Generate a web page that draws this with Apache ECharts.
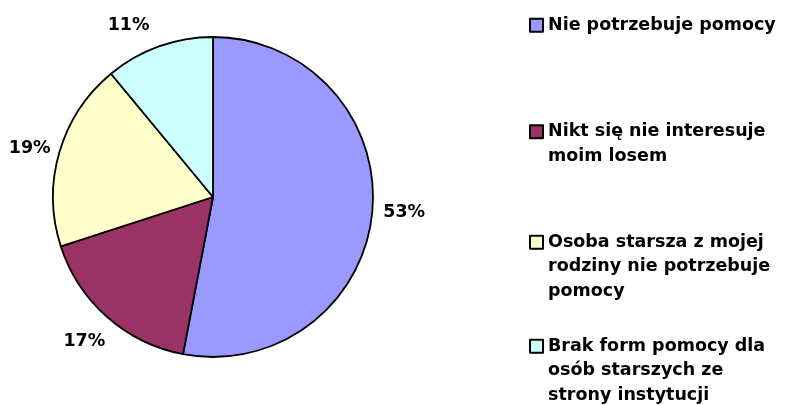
<!DOCTYPE html>
<html>
<head>
<meta charset="utf-8">
<script src="https://cdn.jsdelivr.net/npm/echarts@6/dist/echarts.min.js"></script>
<style>
  html, body { margin: 0; padding: 0; background: #ffffff; }
  #chart { width: 787px; height: 405px; }
</style>
</head>
<body>
<div id="chart"></div>
<script>
// Survey answers (share of respondents, %)
const categories = [
  'Nie potrzebuje pomocy',
  'Nikt się nie interesuje moim losem',
  'Osoba starsza z mojej rodziny nie potrzebuje pomocy',
  'Brak form pomocy dla osób starszych ze strony instytucji'
];
const values = [53, 17, 19, 11];
// Legend text as it wraps in the legend column
const legendLines = [
  ['Nie potrzebuje pomocy'],
  ['Nikt się nie interesuje', 'moim losem'],
  ['Osoba starsza z mojej', 'rodziny nie potrzebuje', 'pomocy'],
  ['Brak form pomocy dla', 'osób starszych ze', 'strony instytucji']
];
const colors = ['#9999FF', '#993366', '#FFFFCC', '#CCFFFF'];

const FONT = '"DejaVu Sans", "Liberation Sans", Arial, sans-serif';
const LINE_H = 24.5;
const legendTops = [13, 95, 181, 285];
// nudges for the percentage labels
const labelNudge = [[-1, -3], [-1, 0], [2, 5], [-19, 10]];

const pieData = categories.map((name, i) => ({
  name: name,
  value: values[i],
  itemStyle: { color: colors[i] }
}));

const labelData = categories.map((name, i) => ({
  name: name,
  value: values[i],
  label: { offset: labelNudge[i] }
}));

// Legend entries: the text block is centred on the swatch, so blank lines
// are put in front to bring the first line level with the swatch.
const legends = categories.map((name, i) => {
  const lines = legendLines[i];
  const pad = new Array(lines.length - 1).fill(' ');
  return {
    data: [name],
    orient: 'vertical',
    left: 529,
    top: legendTops[i],
    padding: 0,
    itemWidth: 13,
    itemHeight: 13,
    icon: 'rect',
    selectedMode: false,
    formatter: () => pad.concat(lines).join('\n'),
    textStyle: {
      fontFamily: FONT,
      fontWeight: 'bold',
      fontSize: 17.5,
      color: '#000000',
      lineHeight: LINE_H
    }
  };
});

const chart = echarts.init(document.getElementById('chart'), null, { renderer: 'canvas' });
chart.setOption({
  animation: false,
  backgroundColor: '#ffffff',
  legend: legends,
  series: [
    {
      type: 'pie',
      center: [213, 197],
      radius: 160,
      startAngle: 90,
      clockwise: true,
      silent: true,
      label: { show: false },
      labelLine: { show: false },
      itemStyle: { borderColor: '#000000', borderWidth: 1.8 },
      data: pieData
    },
    {
      // transparent ring carrying the percentage labels around the pie
      type: 'pie',
      center: [213, 197],
      radius: [185, 195],
      startAngle: 90,
      clockwise: true,
      silent: true,
      itemStyle: { color: 'rgba(0,0,0,0)', borderWidth: 0 },
      labelLine: { show: false },
      label: {
        show: true,
        position: 'inside',
        formatter: '{c}%',
        fontFamily: FONT,
        fontWeight: 'bold',
        fontSize: 17.5,
        color: '#000000'
      },
      data: labelData
    }
  ]
});
</script>
</body>
</html>
